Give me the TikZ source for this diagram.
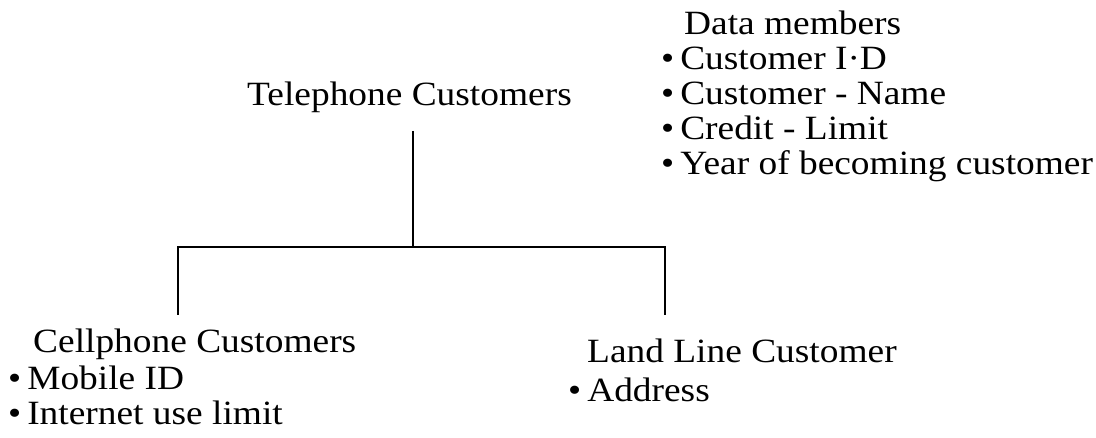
\documentclass[tikz,border=0pt]{standalone}
\usepackage{fontspec}
\setmainfont{Liberation Serif}[FakeStretch=1.1]
\newcommand{\itemdot}{\textbullet\hspace{6pt}}
\begin{document}
\begin{tikzpicture}[x=1pt,y=-1pt,
  lbl/.style={inner sep=0pt,anchor=base west,font=\fontsize{34}{36}\selectfont},
  link/.style={line width=1.4pt}]
\useasboundingbox (0,0) rectangle (1096,438);

% class names and their members
\node[lbl] (tel) at (247,106) {Telephone Customers};
\node[lbl] (dm) at (684,35) {Data members};
\node[lbl] (d1) at (661,70) {\itemdot Customer I·D};
\node[lbl] (d2) at (661,105) {\itemdot Customer - Name};
\node[lbl] (d3) at (661,140) {\itemdot Credit - Limit};
\node[lbl] (d4) at (661,175) {\itemdot Year of becoming customer};

\node[lbl] (cell) at (33,353) {Cellphone Customers};
\node[lbl] (c1) at (8,390) {\itemdot Mobile ID};
\node[lbl] (c2) at (8,425) {\itemdot Internet use limit};

\node[lbl] (land) at (587,363) {Land Line Customer};
\node[lbl] (l1) at (568,402) {\itemdot Address};

% tree connectors
\coordinate (rootend) at (413,131);
\coordinate (fork) at (413,247);
\coordinate (lcorner) at (178,247);
\coordinate (rcorner) at (665,247);
\coordinate (lend) at (178,315);
\coordinate (rend) at (665,315);

\draw[link] (rootend) -- (fork);
\draw[link] (lend) -- (lcorner) -- (rcorner) -- (rend);
\end{tikzpicture}
\end{document}
